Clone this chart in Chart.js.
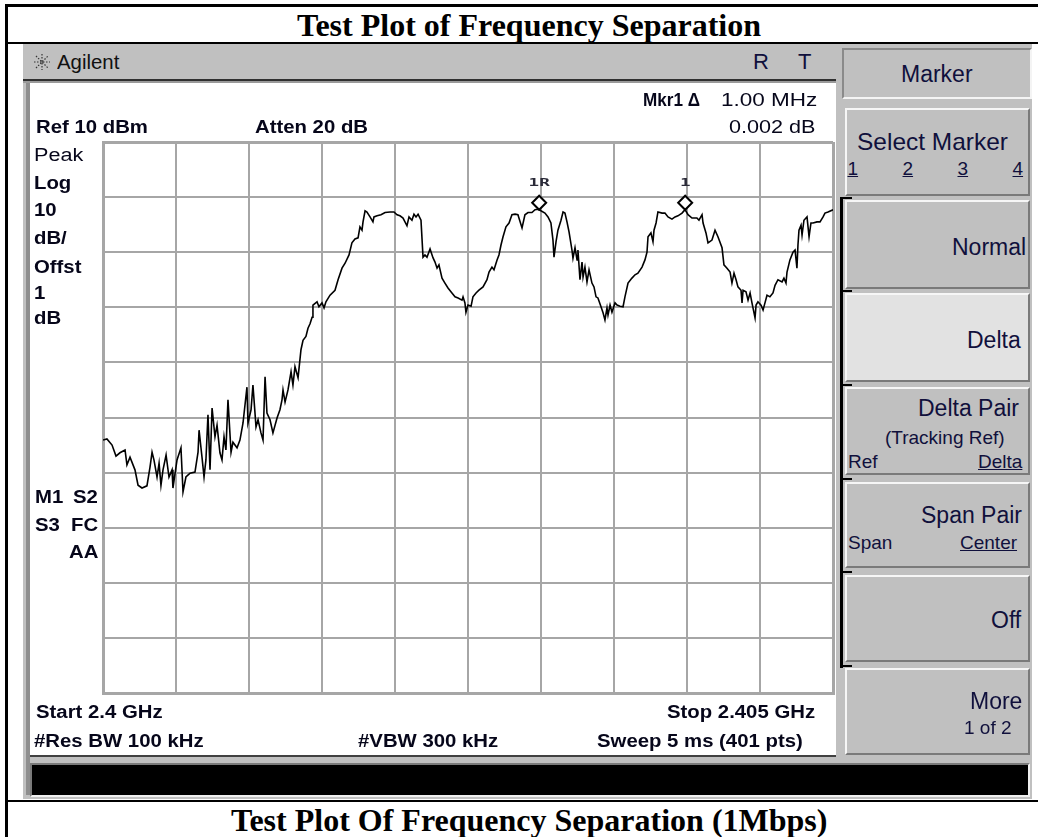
<!DOCTYPE html>
<html><head><meta charset="utf-8">
<script src="https://cdn.jsdelivr.net/npm/chart.js@4.4.0/dist/chart.umd.min.js"></script>
<style>
body{margin:0;width:1038px;height:837px;position:relative;overflow:hidden;background:#fff;font-family:'Liberation Sans',Arial,sans-serif;}
.abs{position:absolute;box-sizing:border-box;}
.btn{position:absolute;box-sizing:border-box;left:845px;width:185px;background:#c0c0c0;border:2px solid;border-color:#f6f6f6 #7a7a7a #7a7a7a #f6f6f6;}
.t{position:absolute;white-space:nowrap;line-height:1;transform-origin:0 0;}
</style></head><body>
<!-- table borders -->
<div class="abs" style="left:5px;top:4px;width:1040px;height:3px;background:#000"></div>
<div class="abs" style="left:5px;top:4px;width:3px;height:840px;background:#000"></div>
<div class="abs" style="left:5px;top:42px;width:1040px;height:2px;background:#000"></div>
<div class="abs" style="left:5px;top:800px;width:1040px;height:2px;background:#000"></div>
<!-- instrument screen -->
<div class="abs" style="left:23px;top:44px;width:1009px;height:755px;background:#c0c0c0"></div>
<div class="abs" style="left:23px;top:79px;width:813px;height:2px;background:#303030"></div>
<div class="abs" style="left:23px;top:81px;width:813px;height:2px;background:#9a9a9a"></div>
<div class="abs" style="left:26px;top:83px;width:4px;height:712px;background:#8e8e8e"></div>
<div class="abs" style="left:30px;top:83px;width:806px;height:672px;background:#fff"></div>
<div class="abs" style="left:30px;top:755px;width:806px;height:2px;background:#404040"></div>
<div class="abs" style="left:30px;top:763px;width:1000px;height:34px;background:#000;border:2px solid;border-color:#7a7a7a #f0f0f0 #f0f0f0 #7a7a7a"></div>
<!-- softkeys -->
<div class="abs" style="left:842px;top:48px;width:190px;height:51px;background:#c0c0c0;border:2px solid;border-color:#8a8a8a #f4f4f4 #f4f4f4 #8a8a8a"></div>
<div class="btn" style="top:108px;height:88px"></div>
<div class="btn" style="top:200px;height:89px"></div>
<div class="btn" style="top:293px;height:89px;background:#e2e2e2"></div>
<div class="btn" style="top:387px;height:88px"></div>
<div class="btn" style="top:482px;height:86px"></div>
<div class="btn" style="top:575px;height:87px"></div>
<div class="btn" style="top:668px;height:87px"></div>
<div class="abs" style="left:840px;top:198px;width:3px;height:470px;background:#000"></div>
<div class="abs" style="left:840px;top:197px;width:12px;height:2px;background:#000"></div>
<div class="abs" style="left:840px;top:290px;width:12px;height:2px;background:#000"></div>
<div class="abs" style="left:840px;top:384px;width:12px;height:2px;background:#000"></div>
<div class="abs" style="left:840px;top:478px;width:12px;height:2px;background:#000"></div>
<div class="abs" style="left:840px;top:571px;width:12px;height:2px;background:#000"></div>
<div class="abs" style="left:840px;top:665px;width:12px;height:2px;background:#000"></div>
<svg class="abs" style="left:33px;top:53px" width="18" height="18" viewBox="-9 -9 18 18">
<g stroke="#333" stroke-width="1.2" stroke-dasharray="1.5 1.5">
<line x1="0" y1="-8" x2="0" y2="8"/><line x1="-8" y1="0" x2="8" y2="0"/>
<line x1="-6" y1="-6" x2="6" y2="6"/><line x1="-6" y1="6" x2="6" y2="-6"/></g></svg>
<canvas id="c" width="806" height="672" style="position:absolute;left:30px;top:83px;width:806px;height:672px"></canvas>
<script>
// Trace: frequency offset from start (MHz) and level (dBm)
const freqMHz = [
0.000,0.027,0.062,0.089,0.116,0.151,0.164,0.185,0.219,0.240,0.267,0.301,0.322,0.336,0.349,0.370,0.384,0.397,0.411,0.432,
0.452,0.473,0.479,0.507,0.534,0.548,0.568,0.596,0.630,0.651,0.658,0.678,0.692,0.705,0.719,0.733,0.747,0.767,0.781,0.801,
0.815,0.829,0.842,0.856,0.877,0.890,0.918,0.938,0.959,0.986,0.993,1.014,1.027,1.048,1.062,1.082,1.096,1.110,1.123,1.144,
1.164,1.192,1.212,1.226,1.233,1.247,1.267,1.288,1.301,1.315,1.336,1.356,1.370,1.390,1.404,1.418,1.432,1.438,1.466,1.479,
1.500,1.514,1.527,1.555,1.589,1.610,1.637,1.658,1.685,1.705,1.726,1.747,1.760,1.774,1.781,1.795,1.808,1.829,1.849,1.856,
1.877,1.904,1.932,1.966,1.993,2.014,2.034,2.055,2.082,2.096,2.116,2.130,2.144,2.158,2.178,2.192,2.205,2.219,2.240,2.260,
2.274,2.288,2.301,2.322,2.342,2.363,2.390,2.411,2.432,2.459,2.466,2.479,2.486,2.500,2.521,2.534,2.555,2.575,2.603,2.630,
2.644,2.664,2.678,2.699,2.712,2.726,2.740,2.760,2.781,2.801,2.822,2.842,2.870,2.890,2.911,2.938,2.959,2.979,2.9875,3.027,
3.048,3.068,3.082,3.089,3.103,3.116,3.137,3.151,3.164,3.178,3.192,3.212,3.219,3.233,3.247,3.253,3.267,3.281,3.288,3.301,
3.315,3.329,3.349,3.363,3.377,3.390,3.411,3.425,3.438,3.452,3.459,3.473,3.486,3.507,3.521,3.541,3.562,3.575,3.596,3.623,
3.644,3.664,3.692,3.712,3.726,3.733,3.753,3.767,3.774,3.788,3.801,3.829,3.849,3.870,3.897,3.918,3.938,3.966,3.979,3.9875,
4.007,4.034,4.068,4.082,4.103,4.110,4.130,4.144,4.171,4.192,4.212,4.240,4.253,4.274,4.295,4.308,4.322,4.336,4.349,4.370,
4.377,4.384,4.404,4.418,4.432,4.445,4.452,4.466,4.473,4.486,4.507,4.521,4.534,4.548,4.568,4.589,4.603,4.623,4.651,4.664,
4.678,4.685,4.705,4.726,4.740,4.753,4.760,4.767,4.781,4.788,4.801,4.815,4.822,4.836,4.849,4.863,4.890,4.911,4.932,4.945,
4.966,5.000];
const levelDbm = [
-44.1,-43.9,-45.0,-47.0,-46.4,-45.9,-48.6,-47.2,-49.5,-52.3,-52.8,-52.4,-49.0,-46.3,-47.7,-50.8,-48.3,-52.3,-49.5,-46.8,
-50.8,-49.5,-52.8,-47.7,-45.5,-53.5,-50.8,-50.1,-49.9,-46.3,-42.3,-47.2,-50.8,-47.7,-39.5,-49.5,-38.3,-43.5,-41.4,-46.4,
-47.7,-43.5,-45.9,-36.8,-46.3,-44.5,-45.5,-44.1,-41.0,-34.5,-41.0,-38.6,-34.1,-41.7,-40.4,-42.8,-44.1,-32.6,-39.2,-40.4,
-42.8,-40.1,-38.6,-36.8,-35.0,-37.2,-35.0,-31.7,-34.1,-30.8,-32.8,-27.7,-26.0,-25.3,-23.8,-23.0,-21.8,-19.6,-19.0,-19.9,
-19.2,-20.1,-19.0,-17.8,-16.9,-15.0,-12.9,-12.0,-10.5,-8.3,-7.6,-7.4,-5.4,-6.0,-4.5,-2.5,-2.7,-3.6,-4.5,-3.6,
-3.4,-3.2,-2.8,-2.7,-2.7,-3.2,-3.4,-3.8,-5.2,-3.6,-4.2,-3.1,-3.6,-3.1,-4.2,-10.9,-10.5,-10.9,-9.4,-11.0,
-11.8,-12.9,-12.3,-14.7,-15.6,-16.5,-17.4,-18.1,-18.3,-18.7,-18.1,-19.2,-20.9,-19.6,-19.8,-18.1,-17.4,-16.9,-16.3,-15.0,
-13.6,-12.7,-13.2,-11.4,-10.5,-8.7,-7.2,-5.4,-4.7,-3.2,-3.1,-3.2,-5.6,-3.2,-2.8,-2.8,-2.3,-2.2,-2.3,-2.9,
-3.6,-4.7,-7.8,-10.9,-8.1,-6.0,-4.2,-2.7,-2.9,-4.5,-6.3,-9.6,-11.1,-9.2,-11.4,-9.6,-15.0,-11.8,-14.5,-12.7,
-15.4,-13.2,-15.6,-16.3,-18.1,-18.3,-19.9,-21.0,-22.3,-20.1,-21.4,-19.6,-20.9,-19.2,-19.6,-19.8,-19.9,-18.1,-15.6,-14.7,
-14.1,-13.8,-12.7,-11.4,-10.0,-7.2,-6.5,-8.1,-6.0,-4.7,-2.7,-2.9,-2.9,-3.6,-4.0,-3.6,-3.4,-2.9,-2.5,-2.3,
-3.2,-3.8,-3.8,-4.2,-3.2,-4.7,-6.5,-8.3,-7.8,-6.0,-7.2,-9.2,-12.3,-12.9,-13.6,-15.6,-13.8,-15.0,-16.3,-16.9,
-19.2,-16.9,-17.2,-18.7,-17.4,-19.2,-20.1,-21.9,-19.6,-19.0,-19.6,-20.5,-19.2,-17.8,-18.1,-17.4,-16.0,-15.0,-15.4,-14.7,
-15.6,-13.6,-11.4,-10.0,-9.6,-12.9,-8.7,-6.0,-5.1,-6.9,-4.2,-3.8,-3.6,-7.2,-4.7,-4.7,-4.5,-4.5,-3.6,-2.9,
-2.7,-2.3];
// Markers (delta pair): reference marker 1R and marker 1
const markerFreqMHz = [2.9875, 3.9875];
const markerLevelDbm = [-2.3, -2.3];
const markerNames = ['1R', '1'];
// Axis settings: span 0..5 MHz (2.4 to 2.405 GHz), ref level 10 dBm, 10 dB/div
const xRangeMHz = [0, 5];
const yRangeDbm = [-90, 10];

// Text labels: [text, x, centerY, size, bold, align, extra]
const NAVY = '#10103c';
const SERIF = "'Liberation Serif','Times New Roman',serif";
const labels = [
 ['Test Plot of Frequency Separation', 529, 25, 32, true, 'center', {font:SERIF, color:'#000', sx:1}],
 ['Test Plot Of Frequency Separation (1Mbps)', 529, 820, 32, true, 'center', {font:SERIF, color:'#000', sx:1}],
 ['Agilent', 57, 62, 20, false, 'left', {color:'#111', sx:1.02}],
 ['R', 753, 62, 22, false, 'left', {color:NAVY, sx:1}],
 ['T', 798, 62, 22, false, 'left', {color:NAVY, sx:1}],
 ['Mkr1 \u0394', 700, 100, 18, true, 'right', {sx:0.95}],
 ['1.00 MHz', 817, 100, 18, false, 'right', {sx:1.25}],
 ['0.002 dB', 815, 127, 18, false, 'right', {sx:1.2}],
 ['Ref 10 dBm', 36, 127, 18, true, 'left', {}],
 ['Atten 20 dB', 255, 127, 18, true, 'left', {}],
 ['Peak', 34, 155, 18, false, 'left', {sx:1.2}],
 ['Log', 34, 183, 18, true, 'left', {}],
 ['10', 34, 210, 18, true, 'left', {}],
 ['dB/', 34, 238, 18, true, 'left', {}],
 ['Offst', 34, 267, 18, true, 'left', {}],
 ['1', 34, 293, 18, true, 'left', {}],
 ['dB', 34, 318, 18, true, 'left', {}],
 ['M1', 35, 497, 18, true, 'left', {}],
 ['S2', 98, 497, 18, true, 'right', {}],
 ['S3', 35, 525, 18, true, 'left', {}],
 ['FC', 98, 525, 18, true, 'right', {}],
 ['AA', 98, 552, 18, true, 'right', {}],
 ['Start 2.4 GHz', 36, 712, 18, true, 'left', {}],
 ['Stop 2.405 GHz', 815, 712, 18, true, 'right', {}],
 ['#Res BW 100 kHz', 34, 741, 18, true, 'left', {}],
 ['#VBW 300 kHz', 358, 741, 18, true, 'left', {}],
 ['Sweep 5 ms (401 pts)', 803, 741, 18, true, 'right', {}],
 ['Marker', 937, 74, 23, false, 'center', {color:NAVY, sx:1}],
 ['Select Marker', 932, 142, 24, false, 'center', {color:NAVY, sx:1.02}],
 ['1', 853, 168, 19, false, 'center', {color:NAVY, sx:1, u:true}],
 ['2', 908, 168, 19, false, 'center', {color:NAVY, sx:1, u:true}],
 ['3', 963, 168, 19, false, 'center', {color:NAVY, sx:1, u:true}],
 ['4', 1018, 168, 19, false, 'center', {color:NAVY, sx:1, u:true}],
 ['Normal', 1026, 247, 23, false, 'right', {color:NAVY, sx:1}],
 ['Delta', 1021, 340, 23, false, 'right', {color:NAVY, sx:1}],
 ['Delta Pair', 1019, 408, 23, false, 'right', {color:NAVY, sx:1}],
 ['(Tracking Ref)', 1005, 437, 19, false, 'right', {color:NAVY, sx:1}],
 ['Ref', 848, 461, 19, false, 'left', {color:NAVY, sx:1}],
 ['Delta', 1022, 461, 19, false, 'right', {color:NAVY, sx:1, u:true}],
 ['Span Pair', 1022, 515, 23, false, 'right', {color:NAVY, sx:1}],
 ['Span', 848, 542, 19, false, 'left', {color:NAVY, sx:1}],
 ['Center', 1017, 542, 19, false, 'right', {color:NAVY, sx:1, u:true}],
 ['Off', 1021, 620, 23, false, 'right', {color:NAVY, sx:1}],
 ['More', 1022, 701, 23, false, 'right', {color:NAVY, sx:1}],
 ['1 of 2', 1012, 727, 19, false, 'right', {color:NAVY, sx:1}]
];
labels.forEach(([txt, x, cy, size, bold, align, ex]) => {
  const s = document.createElement('div');
  s.className = 't';
  s.textContent = txt;
  s.style.fontSize = size + 'px';
  s.style.fontWeight = bold ? 'bold' : 'normal';
  s.style.fontFamily = ex.font || "'Liberation Sans',Arial,sans-serif";
  s.style.color = ex.color || '#06061a';
  if (ex.u) s.style.textDecoration = 'underline';
  document.body.appendChild(s);
  const sx = ex.sx || 1.13;
  const w = s.offsetWidth * sx;
  const left = align === 'left' ? x : align === 'right' ? x - w : x - w / 2;
  s.style.left = left + 'px';
  s.style.top = (cy - size / 2) + 'px';
  s.style.transform = 'scaleX(' + sx + ')';
  s.style.zIndex = 5;
});

const markerPlugin = {
  id: 'markers',
  afterDatasetsDraw(chart) {
    const {ctx, scales: {x, y}} = chart;
    markerFreqMHz.forEach((f, i) => {
      const px = x.getPixelForValue(f), py = y.getPixelForValue(markerLevelDbm[i]);
      ctx.save();
      ctx.beginPath();
      ctx.moveTo(px, py - 14); ctx.lineTo(px + 7, py - 7); ctx.lineTo(px, py); ctx.lineTo(px - 7, py - 7);
      ctx.closePath();
      ctx.fillStyle = '#fff'; ctx.fill();
      ctx.lineWidth = 2; ctx.strokeStyle = '#000'; ctx.stroke();
      ctx.translate(px, py - 27);
      ctx.scale(1.6, 1);
      ctx.font = 'bold 11px "DejaVu Sans Mono", monospace';
      ctx.textAlign = 'center'; ctx.textBaseline = 'middle';
      ctx.fillStyle = '#2a2a38';
      ctx.fillText(markerNames[i], 0, 0);
      ctx.restore();
    });
  }
};

const gridW = (c) => (c.index === 0 || c.index === 10) ? 3 : 2;
new Chart(document.getElementById('c'), {
  type: 'line',
  data: { datasets: [{
    data: freqMHz.map((f, i) => ({x: f, y: levelDbm[i]})),
    borderColor: '#000', borderWidth: 1.6, pointRadius: 0, tension: 0, fill: false
  }]},
  options: {
    responsive: false, devicePixelRatio: 1, animation: false, events: [],
    layout: { padding: { left: 73, top: 59, right: 3, bottom: 62 } },
    plugins: { legend: { display: false }, tooltip: { enabled: false } },
    scales: {
      x: { type: 'linear', min: xRangeMHz[0], max: xRangeMHz[1],
           ticks: { display: false, stepSize: 0.5 },
           grid: { color: '#a6a6a6', lineWidth: gridW, drawTicks: false },
           border: { display: true, color: '#a6a6a6', width: 3 } },
      y: { type: 'linear', min: yRangeDbm[0], max: yRangeDbm[1],
           ticks: { display: false, stepSize: 10 },
           grid: { color: '#a6a6a6', lineWidth: gridW, drawTicks: false },
           border: { display: true, color: '#a6a6a6', width: 3 } }
    }
  },
  plugins: [markerPlugin]
});
</script>
</body></html>
